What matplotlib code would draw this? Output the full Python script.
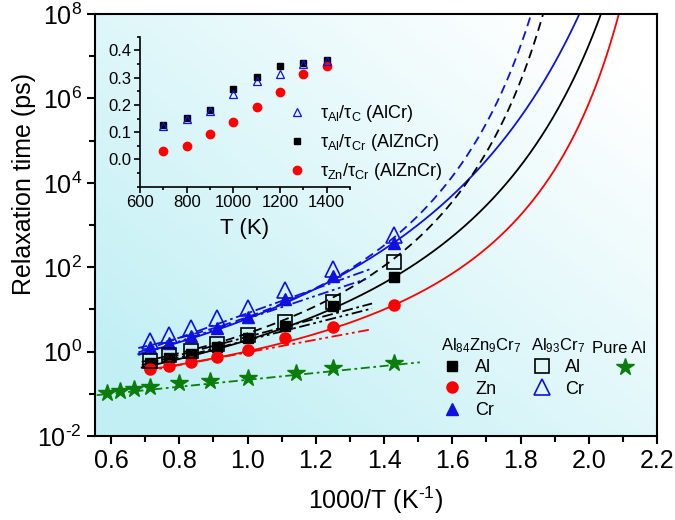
import numpy as np
import matplotlib
matplotlib.use('Agg')
import matplotlib.pyplot as plt
from matplotlib.ticker import MultipleLocator, FixedLocator, NullFormatter, FormatStrFormatter, FuncFormatter
from matplotlib.lines import Line2D

plt.rcParams['font.family'] = ['Liberation Sans', 'DejaVu Sans']
plt.rcParams['mathtext.fontset'] = 'custom'
plt.rcParams['mathtext.rm'] = 'Liberation Sans'
plt.rcParams['mathtext.it'] = 'Liberation Sans:italic'
plt.rcParams['mathtext.bf'] = 'Liberation Sans:bold'
plt.rcParams['axes.unicode_minus'] = False

# ---------------- data ----------------
T_alloy = np.array([1400, 1300, 1200, 1100, 1000, 900, 800, 700])
tau_AlZnCr_Al = [0.54, 0.71, 0.89, 1.26, 2.09, 3.98, 12.0, 57.5]
tau_AlZnCr_Zn = [0.38, 0.46, 0.56, 0.76, 1.09, 2.07, 3.77, 12.7]
tau_AlZnCr_Cr = [1.26, 1.58, 2.29, 3.55, 6.6, 17.8, 63.0, 380.0]
tau_AlCr_Al = [0.61, 0.83, 1.05, 1.51, 2.47, 4.94, 15.2, 135.0]
tau_AlCr_Cr = [1.74, 2.47, 3.69, 6.17, 10.6, 28.8, 93.0, 575.0]

T_pure = np.array([1700, 1600, 1500, 1400, 1250, 1125, 1000, 875, 800, 700])
tau_pure_Al = [0.106, 0.118, 0.128, 0.143, 0.177, 0.201, 0.241, 0.316, 0.40, 0.546]

# VFT fits: log10(tau) = A + B/(T - T0)
vft_names = ['AlZnCr_Al', 'AlZnCr_Zn', 'AlZnCr_Cr', 'AlCr_Al', 'AlCr_Cr']
vft_A = [-1.265, -1.05, -1.181, -1.081, -0.779]
vft_B = [937.8, 623.5, 1230.0, 843.0, 887.0]
vft_T0 = [390.0, 410.0, 373.0, 443.0, 445.0]
vft_xstart = [0.69, 0.70, 0.68, 0.69, 0.68]
vft_color = ['black', 'red', '#1010e0', 'black', '#1010e0']
vft_style = ['-', '-', '-', '--', '--']

# high-T Arrhenius lines (end points, 1000/T and tau)
arr_x0 = [0.68, 0.68, 0.69, 0.69, 0.70, 0.558]
arr_x1 = [1.358, 1.358, 1.365, 1.365, 1.365, 1.505]
arr_t0 = [0.955, 0.83, 0.48, 0.43, 0.34, 0.093]
arr_t1 = [89.0, 56.0, 13.8, 10.5, 3.39, 0.557]
arr_color = ['#1010e0', '#1010e0', 'black', 'black', 'red', 'green']
arr_dash = [(6, 2, 1.5, 2), (6, 2, 1.5, 2, 1.5, 2), (6, 2, 1.5, 2), (6, 2, 1.5, 2, 1.5, 2),
            (6, 2, 1.5, 2, 1.5, 2), (5, 2, 1.5, 2)]

# inset
T_inset = [700, 800, 900, 1000, 1100, 1200, 1300, 1400]
ratio_AlCr_Al_C = [0.124, 0.148, 0.179, 0.240, 0.286, 0.313, 0.350, 0.362]
ratio_AlZnCr_Al_Cr = [0.126, 0.151, 0.182, 0.259, 0.304, 0.341, 0.353, 0.366]
ratio_AlZnCr_Zn_Cr = [0.031, 0.049, 0.092, 0.139, 0.191, 0.247, 0.313, 0.341]

BLUE = '#1010e0'
GREEN = '#0a7d0a'

# ---------------- figure ----------------
fig = plt.figure(figsize=(6.75, 5.2), dpi=100)
ax = fig.add_axes([95/675, 1-436/520, (657-95)/675, (436-14)/520])
ax.set_xlim(0.553, 2.2)
ax.set_ylim(1e-2, 1e8)
ax.set_yscale('log')

# background gradient
nx, ny = 300, 300
gx, gy = np.meshgrid(np.linspace(0, 1, nx), np.linspace(0, 1, ny))
w = np.clip(0.65*(1-gx) + 0.6*(1-gy) - 0.12, 0, 1)
w = w / w.max()
c0 = np.array([1.0, 1.0, 1.0])
c1 = np.array([0.76, 0.94, 0.96])
img = c0[None, None, :]*(1-w[..., None]) + c1[None, None, :]*w[..., None]
ax.imshow(img, extent=[0, 1, 0, 1], transform=ax.transAxes, origin='lower',
          aspect='auto', zorder=0)

x_alloy = 1000.0/T_alloy
x_pure = 1000.0/T_pure

# VFT curves
for A, B, T0, xs, col, ls in zip(vft_A, vft_B, vft_T0, vft_xstart, vft_color, vft_style):
    T_top = T0 + B/(8.2 - A)
    xx = np.linspace(xs, 1000.0/T_top, 400)
    TT = 1000.0/xx
    yy = 10**(A + B/(TT - T0))
    if ls == '--':
        ax.plot(xx, yy, color=col, lw=1.3, dashes=(5, 3), zorder=2)
    else:
        ax.plot(xx, yy, color=col, lw=1.3, zorder=2)

# Arrhenius lines
for x0, x1, t0, t1, col, d in zip(arr_x0, arr_x1, arr_t0, arr_t1, arr_color, arr_dash):
    c = GREEN if col == 'green' else col
    ax.plot([x0, x1], [t0, t1], color=c, lw=1.3, dashes=d, zorder=2)

# markers
ax.plot(x_alloy, tau_AlZnCr_Al, 's', color='black', ms=7, ls='none', zorder=3)
ax.plot(x_alloy, tau_AlZnCr_Zn, 'o', color='red', ms=8, ls='none', zorder=3)
ax.plot(x_alloy, tau_AlZnCr_Cr, '^', color=BLUE, ms=8, ls='none', zorder=3)
ax.plot(x_alloy, tau_AlCr_Al, 's', mfc='none', mec='black', mew=1.2, ms=9.5, ls='none', zorder=4)
ax.plot(x_alloy, tau_AlCr_Cr, '^', mfc='none', mec=BLUE, mew=1.2, ms=11, ls='none', zorder=4)
ax.plot(x_pure, tau_pure_Al, '*', color=GREEN, ms=13, ls='none', zorder=4)

# axes styling
for s in ax.spines.values():
    s.set_linewidth(1.5)
ax.xaxis.set_major_locator(MultipleLocator(0.2))
ax.xaxis.set_minor_locator(MultipleLocator(0.1))
ax.xaxis.set_major_formatter(FormatStrFormatter('%.1f'))
ax.yaxis.set_major_locator(FixedLocator([1e-2, 1e0, 1e2, 1e4, 1e6, 1e8]))
ax.yaxis.set_minor_locator(FixedLocator([1e-1, 1e1, 1e3, 1e5, 1e7]))
ax.yaxis.set_minor_formatter(NullFormatter())
ax.yaxis.set_major_formatter(FuncFormatter(
    lambda v, p: '10$^{\\mathrm{%s}}$' % ('%d' % round(np.log10(v))).replace('-', '\\text{-}')))
ax.tick_params(which='major', direction='out', length=6, width=1.5, labelsize=18)
ax.tick_params(which='minor', direction='out', length=4, width=1.5)
ax.set_xlabel('1000/T (K$^{\\text{-}1}$)', fontsize=18, labelpad=8)
ax.set_ylabel('Relaxation time (ps)', fontsize=18)
ax.yaxis.set_label_coords((36-95)/562, (436-184)/422)

# legends
h1 = [Line2D([], [], marker='s', color='black', ls='none', ms=7),
      Line2D([], [], marker='o', color='red', ls='none', ms=8),
      Line2D([], [], marker='^', color=BLUE, ls='none', ms=8)]
h2 = [Line2D([], [], marker='s', mfc='none', mec='black', mew=1.2, ls='none', ms=9.5),
      Line2D([], [], marker='^', mfc='none', mec=BLUE, mew=1.2, ls='none', ms=11)]
h3 = [Line2D([], [], marker='*', color=GREEN, ls='none', ms=13)]
common = dict(frameon=False, fontsize=13, title_fontsize=12, borderpad=0,
              labelspacing=0.25, handletextpad=0.7, alignment='left', borderaxespad=0)
ytop = (436-336)/422
lg1 = ax.legend(h1, ['Al', 'Zn', 'Cr'], title='Al$_{84}$Zn$_{9}$Cr$_{7}$', loc='upper left',
                bbox_to_anchor=((441-95)/562, ytop), handlelength=1.2, **common)
ax.add_artist(lg1)
lg2 = ax.legend(h2, ['Al', 'Cr'], title='Al$_{93}$Cr$_{7}$', loc='upper left',
                bbox_to_anchor=((531-95)/562, ytop), handlelength=1.2, **common)
ax.add_artist(lg2)
lg3 = ax.legend(h3, [' '], title='Pure Al', loc='upper left',
                bbox_to_anchor=((592-95)/562, (436-341)/422), handlelength=3.6,
                **common)

# inset
axi = fig.add_axes([140/675, 1-186.7/520, 210/675, 150/520])
axi.patch.set_alpha(0)
axi.set_xlim(600, 1500)
axi.set_ylim(-0.1, 0.45)
axi.spines['top'].set_visible(False)
axi.spines['right'].set_visible(False)
for s in ['left', 'bottom']:
    axi.spines[s].set_linewidth(1.2)
axi.xaxis.set_major_locator(FixedLocator([600, 800, 1000, 1200, 1400]))
axi.xaxis.set_minor_locator(MultipleLocator(100))
axi.yaxis.set_major_locator(FixedLocator([0.0, 0.1, 0.2, 0.3, 0.4]))
axi.yaxis.set_minor_locator(MultipleLocator(0.05))
axi.yaxis.set_major_formatter(FormatStrFormatter('%.1f'))
axi.tick_params(which='major', direction='out', length=4, width=1.2, labelsize=12, pad=2)
axi.tick_params(which='minor', direction='out', length=2.5, width=1.2)
axi.set_xlabel('T (K)', fontsize=16, labelpad=6)

p1, = axi.plot(T_inset, ratio_AlCr_Al_C, '^', mfc='none', mec=BLUE, mew=0.9, ms=6, ls='none', zorder=4)
p2, = axi.plot(T_inset, ratio_AlZnCr_Al_Cr, 's', color='black', ms=5, ls='none', zorder=3)
p3, = axi.plot(T_inset, ratio_AlZnCr_Zn_Cr, 'o', color='red', ms=6, ls='none', zorder=3)
fig.legend([p1, p2, p3],
           ['τ$_{\\mathrm{Al}}$/τ$_{\\mathrm{C}}$ (AlCr)',
            'τ$_{\\mathrm{Al}}$/τ$_{\\mathrm{Cr}}$ (AlZnCr)',
            'τ$_{\\mathrm{Zn}}$/τ$_{\\mathrm{Cr}}$ (AlZnCr)'],
           loc='upper left', bbox_to_anchor=(288/675, 1-103/520), frameon=False,
           fontsize=13, borderpad=0, labelspacing=0.45, handlelength=1.0,
           handletextpad=0.8, borderaxespad=0)

fig.savefig('out.png', dpi=100)
